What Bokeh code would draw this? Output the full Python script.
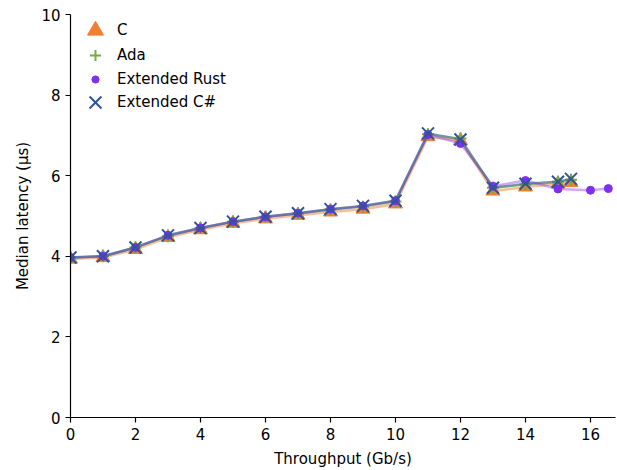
from bokeh.plotting import figure
from bokeh.models import Range1d, Legend, LegendItem, FixedTicker
from bokeh.embed import file_html
from bokeh.resources import INLINE

x_main = [0, 1, 2, 3, 4, 5, 6, 7, 8, 9, 10, 11, 12, 13, 14, 15, 15.4]
c_lat = [3.93, 3.97, 4.17, 4.47, 4.66, 4.82, 4.93, 5.02, 5.10, 5.17, 5.30, 6.97, 6.87, 5.62, 5.72, 5.80, 5.83]
ada_lat = [3.97, 4.00, 4.22, 4.50, 4.70, 4.86, 4.98, 5.06, 5.16, 5.23, 5.36, 7.03, 6.92, 5.70, 5.78, 5.85, 5.90]
x_rust = [0, 1, 2, 3, 4, 5, 6, 7, 8, 9, 10, 11, 12, 13, 14, 15, 16, 16.55]
rust_lat = [3.97, 4.00, 4.22, 4.52, 4.70, 4.86, 4.98, 5.07, 5.17, 5.25, 5.38, 7.02, 6.80, 5.74, 5.88, 5.67, 5.64, 5.68]
cs_lat = [3.97, 4.00, 4.22, 4.52, 4.70, 4.86, 4.98, 5.07, 5.17, 5.25, 5.38, 7.05, 6.90, 5.70, 5.80, 5.85, 5.92]

x_ticks = [0, 2, 4, 6, 8, 10, 12, 14, 16]
y_ticks = [0, 2, 4, 6, 8, 10]

FONT = "DejaVu Sans"
C_COL = "#F07F2F"
ADA_COL = "#70AD47"
RUST_COL = "#7F2FED"
CS_COL = "#2F5597"

p = figure(width=617, height=470, output_backend="svg", toolbar_location=None,
           x_range=Range1d(0, 16.77), y_range=Range1d(0, 10),
           min_border_left=70, min_border_right=2, min_border_top=14, min_border_bottom=52)
p.outline_line_color = None
p.xgrid.visible = False
p.ygrid.visible = False
p.background_fill_color = "white"
p.border_fill_color = "white"

for ax in (p.xaxis, p.yaxis):
    ax.minor_tick_line_color = None
    ax.major_tick_out = 5
    ax.major_tick_in = 0
    ax.major_label_standoff = 5
    ax.major_label_text_font = FONT
    ax.major_label_text_font_size = "15px"
    ax.major_label_text_color = "black"
    ax.axis_label_text_font = FONT
    ax.axis_label_text_font_size = "15px"
    ax.axis_label_text_font_style = "normal"
    ax.axis_label_text_color = "black"
    ax.axis_line_color = "black"
    ax.axis_line_width = 1.2
    ax.major_tick_line_color = "black"
    ax.major_tick_line_width = 1.2

p.xaxis.ticker = FixedTicker(ticks=x_ticks)
p.yaxis.ticker = FixedTicker(ticks=y_ticks)
p.xaxis.axis_label = "Throughput (Gb/s)"
p.yaxis.axis_label = "Median latency (µs)"
p.xaxis.axis_label_standoff = 7
p.yaxis.axis_label_standoff = 6

LW = 2.5
# C
p.line(x_main, c_lat, line_color=C_COL, line_width=LW, line_alpha=0.5)
r_c = p.scatter(x_main, c_lat, marker="triangle", size=14, fill_color=C_COL, line_color=C_COL)
# Ada
p.line(x_main, ada_lat, line_color=ADA_COL, line_width=LW, line_alpha=0.5)
r_ada = p.scatter(x_main, ada_lat, marker="cross", size=12, line_color=ADA_COL, line_width=2)
# Rust
p.line(x_rust, rust_lat, line_color=RUST_COL, line_width=LW, line_alpha=0.4)
r_rust = p.scatter(x_rust, rust_lat, marker="circle", size=8, fill_color=RUST_COL, line_color=RUST_COL)
# C#
p.line(x_main, cs_lat, line_color=CS_COL, line_width=LW, line_alpha=0.5)
r_cs = p.scatter(x_main, cs_lat, marker="x", size=17, line_color=CS_COL, line_width=2)

# one legend per entry so each legend marker gets its own size
FRAME_BOTTOM = 418
entries = [("C", r_c, 40, 30.5), ("Ada", r_ada, 28, 55.5), ("Extended Rust", r_rust, 18, 79.5), ("Extended C#", r_cs, 42, 103)]
for label, rend, w, row_y in entries:
    lg = Legend(items=[LegendItem(label=label, renderers=[rend])])
    lg.glyph_width = w
    lg.glyph_height = w
    lg.label_height = 16
    lg.padding = 0
    lg.margin = 0
    lg.spacing = 0
    lg.label_standoff = int(round(22 - w / 2))
    lg.border_line_color = None
    lg.background_fill_alpha = 0
    lg.label_text_font = FONT
    lg.label_text_font_size = "15px"
    lg.label_text_color = "black"
    lg.location = (25 - w / 2, (FRAME_BOTTOM - row_y) - w / 2)
    p.add_layout(lg)

open("out.html", "w").write(file_html(p, INLINE))
